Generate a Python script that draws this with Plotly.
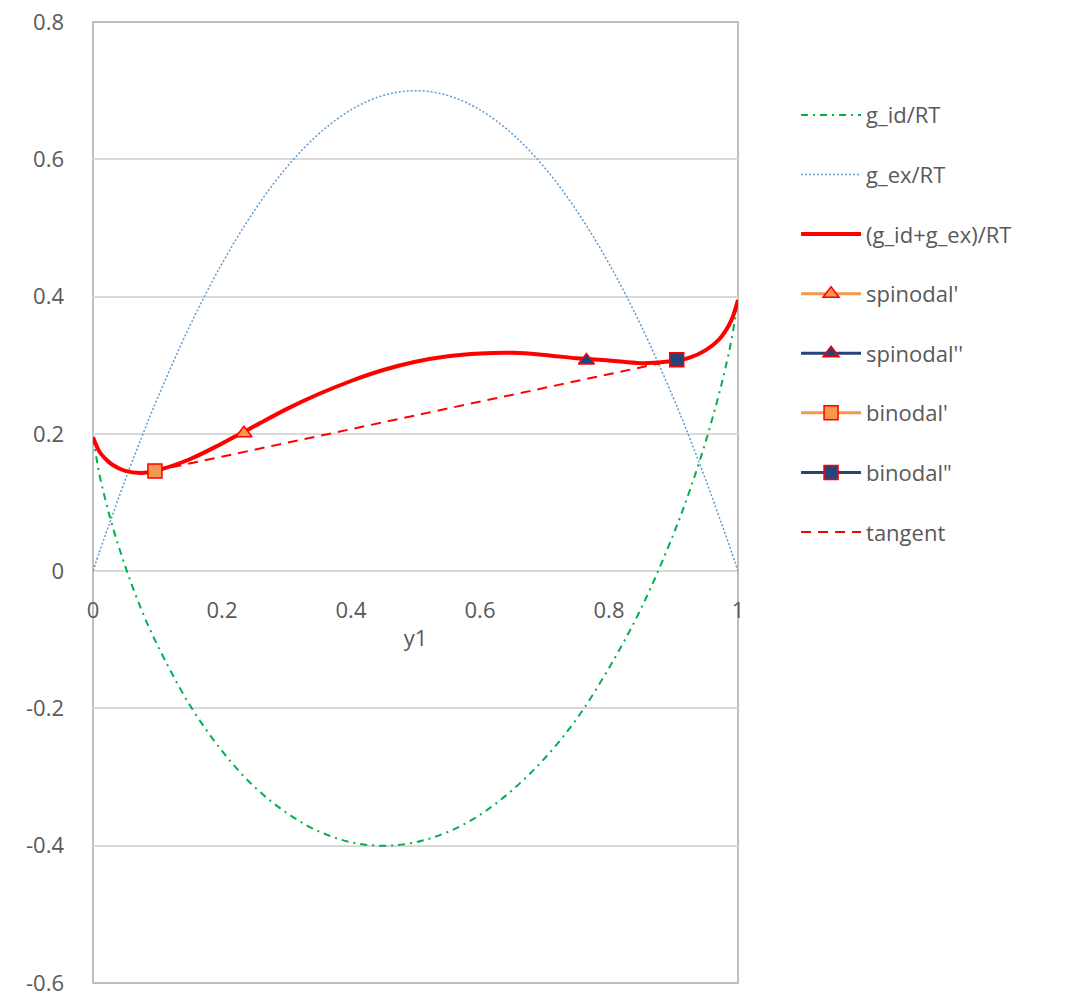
import plotly.graph_objects as go

# ---- data ----
y1 = [0, 0.01, 0.02, 0.03, 0.05, 0.075, 0.1, 0.15, 0.2, 0.25, 0.3, 0.35, 0.4, 0.45,
      0.5, 0.55, 0.6, 0.65, 0.7, 0.75, 0.8, 0.85, 0.9, 0.925, 0.95, 0.97, 0.98, 0.99, 1]

g_id = [0.195, 0.141, 0.101, 0.066, 0.007, -0.056, -0.108, -0.195, -0.262, -0.314,
        -0.352, -0.379, -0.395, -0.400, -0.395, -0.380, -0.355, -0.319, -0.273,
        -0.215, -0.141, -0.054, 0.054, 0.117, 0.189, 0.256, 0.294, 0.338, 0.395]

g_ex = [0, 0.028, 0.055, 0.081, 0.133, 0.194, 0.252, 0.357, 0.448, 0.525, 0.588,
        0.637, 0.672, 0.693, 0.700, 0.693, 0.672, 0.637, 0.588, 0.525, 0.448, 0.357,
        0.252, 0.194, 0.133, 0.081, 0.055, 0.028, 0]

g_tot = [0.195, 0.174, 0.163, 0.155, 0.146, 0.143, 0.147, 0.163, 0.186, 0.211, 0.236,
         0.258, 0.277, 0.293, 0.305, 0.313, 0.317, 0.318, 0.315, 0.310, 0.307, 0.303,
         0.306, 0.311, 0.322, 0.337, 0.349, 0.366, 0.395]

spinodal1 = (0.234, 0.201)
spinodal2 = (0.765, 0.307)
binodal1 = (0.096, 0.146)
binodal2 = (0.905, 0.308)
tangent_x = [binodal1[0], binodal2[0]]
tangent_y = [binodal1[1], binodal2[1]]

x_ticks = [0, 0.2, 0.4, 0.6, 0.8, 1]
x_ticklabels = ["0", "0.2", "0.4", "0.6", "0.8", "1"]
y_ticks = [-0.6, -0.4, -0.2, 0, 0.2, 0.4, 0.6, 0.8]
y_ticklabels = ["-0.6", "-0.4", "-0.2", "0", "0.2", "0.4", "0.6", "0.8"]

GREEN = "#00B050"
BLUE = "#5B9BD5"
RED = "#FF0000"
ORANGE = "#F4984E"
NAVY = "#264478"
TXT = "#595959"
FONT = "Open Sans"
FS = 22

fig = go.Figure()
fig.add_trace(go.Scatter(x=y1, y=g_id, mode="lines", name="g_id/RT", legendgroup="a", legendrank=1,
                         line=dict(color=GREEN, width=2, dash="7px,5px,2px,5px", shape="spline")))
fig.add_trace(go.Scatter(x=y1, y=g_ex, mode="lines", name="g_ex/RT", legendgroup="b", legendrank=2,
                         line=dict(color=BLUE, width=1.5, dash="2px,2px", shape="spline")))
fig.add_trace(go.Scatter(x=y1, y=g_tot, mode="lines", name="(g_id+g_ex)/RT", legendgroup="c",
                         legendrank=3, line=dict(color=RED, width=4, shape="spline")))
fig.add_trace(go.Scatter(x=tangent_x, y=tangent_y, mode="lines", name="tangent", legendgroup="h",
                         legendrank=8, line=dict(color=RED, width=2, dash="10px,7px")))
fig.add_trace(go.Scatter(x=[spinodal1[0]], y=[spinodal1[1]], mode="lines+markers", name="spinodal'",
                         legendgroup="d", legendrank=4,
                         line=dict(color=ORANGE, width=3),
                         marker=dict(symbol="triangle-up", size=14, color=ORANGE,
                                     line=dict(color=RED, width=1.5))))
fig.add_trace(go.Scatter(x=[spinodal2[0]], y=[spinodal2[1]], mode="lines+markers", name="spinodal''",
                         legendgroup="e", legendrank=5,
                         line=dict(color=NAVY, width=3),
                         marker=dict(symbol="triangle-up", size=14, color=NAVY,
                                     line=dict(color=RED, width=1.5))))
fig.add_trace(go.Scatter(x=[binodal1[0]], y=[binodal1[1]], mode="lines+markers", name="binodal'",
                         legendgroup="f", legendrank=6,
                         line=dict(color=ORANGE, width=3),
                         marker=dict(symbol="square", size=14, color=ORANGE,
                                     line=dict(color=RED, width=1.5))))
fig.add_trace(go.Scatter(x=[binodal2[0]], y=[binodal2[1]], mode="lines+markers", name="binodal\"",
                         legendgroup="g", legendrank=7,
                         line=dict(color=NAVY, width=3),
                         marker=dict(symbol="square", size=14, color=NAVY,
                                     line=dict(color=RED, width=1.5))))

y_zero_pos = (0 - y_ticks[0]) / (y_ticks[-1] - y_ticks[0])

fig.update_layout(
    width=1072, height=994,
    margin=dict(l=85, r=342, t=14, b=19, autoexpand=False),
    paper_bgcolor="white", plot_bgcolor="white",
    font=dict(family=FONT, size=FS, color=TXT),
    showlegend=True,
    legend=dict(x=1.09, y=0.925, xanchor="left", yanchor="top",
                font=dict(family=FONT, size=FS, color=TXT),
                traceorder="grouped", tracegroupgap=28,
                bgcolor="rgba(0,0,0,0)", itemwidth=60),
    xaxis=dict(range=[0, 1], tickvals=x_ticks, ticktext=x_ticklabels,
               showgrid=False, zeroline=False, showline=False, ticks="",
               anchor="free", position=y_zero_pos, ticklabelstandoff=24,
               automargin=False, ticklabeloverflow="allow",
               title=dict(text="y1", font=dict(family=FONT, size=FS, color=TXT), standoff=7),
               tickfont=dict(family=FONT, size=FS, color=TXT), fixedrange=True),
    yaxis=dict(range=[-0.6, 0.8], tickvals=y_ticks, ticktext=y_ticklabels,
               showgrid=True, gridcolor="#D9D9D9", gridwidth=1.5,
               zeroline=False, showline=False, ticks="", ticklabelstandoff=28,
               automargin=False, ticklabeloverflow="allow",
               tickfont=dict(family=FONT, size=FS, color=TXT), fixedrange=True),
    shapes=[dict(type="rect", xref="paper", yref="paper", x0=0, x1=1, y0=0, y1=1,
                 line=dict(color="#BFBFBF", width=2), layer="below")],
)

fig.write_html("out.html")
